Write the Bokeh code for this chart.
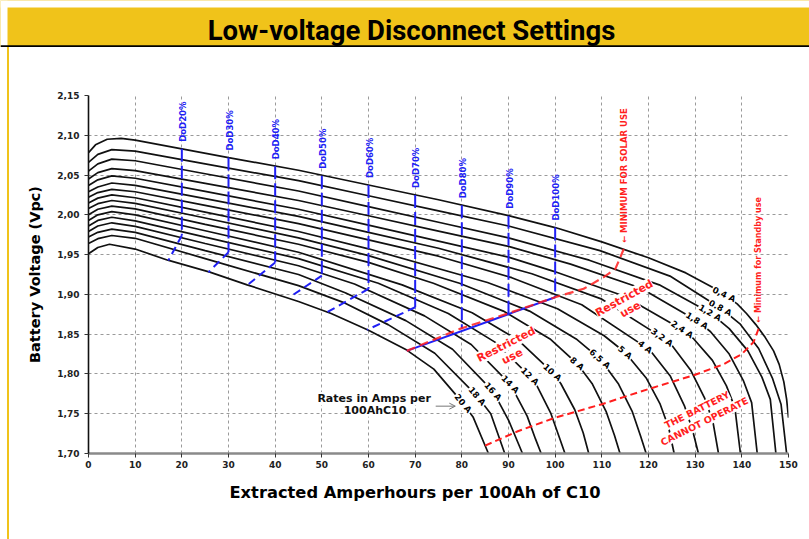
from bokeh.plotting import figure
from bokeh.models import Range1d, FixedTicker, Label, Arrow, OpenHead, Div, Span, BoxAnnotation
from bokeh.layouts import column, row
from bokeh.embed import file_html
from bokeh.resources import INLINE

TITLE = "Low-voltage Disconnect Settings"
X_LABEL = "Extracted Amperhours per 100Ah of C10"
Y_LABEL = "Battery Voltage (Vpc)"

x_ticks = [0, 10, 20, 30, 40, 50, 60, 70, 80, 90, 100, 110, 120, 130, 140, 150]
y_ticks = [1.70, 1.75, 1.80, 1.85, 1.90, 1.95, 2.00, 2.05, 2.10, 2.15]
y_tick_labels = ["1,70", "1,75", "1,80", "1,85", "1,90", "1,95", "2,00", "2,05", "2,10", "2,15"]

# discharge curves: (extracted Ah per 100Ah C10, volts per cell)
curve_0_4A = [(0, 2.078), (1.5, 2.088), (4, 2.095), (7, 2.096), (10, 2.094), (20, 2.083), (30, 2.072),
              (45, 2.056), (60, 2.0375), (75, 2.019), (90, 1.999), (100, 1.984), (110, 1.966), (120, 1.946),
              (128, 1.927), (134, 1.908), (136.2, 1.900), (139, 1.888), (141, 1.876), (143, 1.862),
              (145, 1.846), (146.8, 1.829), (148, 1.812), (149, 1.790), (149.6, 1.768), (150, 1.745)]
curve_0_8A = [(0, 2.066), (2, 2.076), (5, 2.082), (10, 2.080), (25, 2.064), (45, 2.043), (60, 2.024),
              (75, 2.005), (90, 1.986), (109.6, 1.955), (124.6, 1.923), (135.4, 1.883), (139.6, 1.863),
              (143.6, 1.832), (146.6, 1.794), (148.4, 1.762), (149.6, 1.70)]
curve_1_2A = [(0, 2.055), (2, 2.064), (5, 2.070), (10, 2.068), (25, 2.0516), (45, 2.030), (60, 2.0104),
              (75, 1.9907), (90, 1.971), (107.3, 1.943), (122.3, 1.912), (133.2, 1.877), (137.3, 1.857),
              (141.3, 1.829), (144.3, 1.796), (146.1, 1.768), (147.3, 1.70)]
curve_1_8A = [(0, 2.045), (2, 2.053), (5, 2.058), (10, 2.0555), (25, 2.0395), (45, 2.018), (60, 1.9988),
              (75, 1.9796), (90, 1.9604), (103.3, 1.938), (118.3, 1.908), (130.4, 1.867), (133.3, 1.853),
              (137.3, 1.825), (140.3, 1.792), (142.1, 1.764), (143.3, 1.70)]
curve_2_4A = [(0, 2.037), (2, 2.044), (5, 2.049), (10, 2.046), (25, 2.0294), (45, 2.007), (60, 1.987),
              (75, 1.967), (90, 1.9468), (99.7, 1.929), (114.7, 1.898), (127.2, 1.856), (129.7, 1.844),
              (133.7, 1.817), (136.7, 1.785), (138.5, 1.758), (139.7, 1.70)]
curve_3_2A = [(0, 2.029), (2, 2.035), (5, 2.040), (10, 2.037), (25, 2.0204), (45, 1.998), (60, 1.978),
              (75, 1.958), (95, 1.926), (110, 1.894), (122.9, 1.846), (125, 1.836), (129, 1.805),
              (132, 1.770), (133.8, 1.740), (135, 1.70)]
curve_4A = [(0, 2.022), (2, 2.028), (5, 2.032), (10, 2.029), (25, 2.0119), (45, 1.989), (60, 1.9685),
            (75, 1.948), (90.7, 1.921), (105.7, 1.887), (119.3, 1.834), (120.7, 1.827), (124.7, 1.797),
            (127.7, 1.760), (129.5, 1.728), (130.7, 1.70)]
curve_5A = [(0, 2.015), (2, 2.021), (5, 2.025), (10, 2.0215), (25, 2.0034), (45, 1.979), (60, 1.9573),
            (85.5, 1.915), (100.5, 1.882), (110.5, 1.848), (115, 1.827), (119.5, 1.795), (122.5, 1.762),
            (124.3, 1.733), (125.5, 1.70)]
curve_6_5A = [(0, 2.008), (2, 2.014), (5, 2.018), (10, 2.0145), (25, 1.996), (45, 1.971), (60, 1.9487),
              (79.5, 1.914), (94.5, 1.879), (104.5, 1.844), (109.6, 1.819), (113.5, 1.788), (116.5, 1.753),
              (118.3, 1.722), (119.5, 1.70)]
curve_8A = [(0, 2.000), (2, 2.007), (5, 2.011), (10, 2.0075), (25, 1.988), (45, 1.963), (60, 1.9402),
            (73.9, 1.914), (88.9, 1.879), (98.9, 1.844), (104.7, 1.813), (107.9, 1.788), (110.9, 1.753),
            (112.7, 1.723), (113.9, 1.70)]
curve_10A = [(0, 1.993), (2, 2.000), (5, 2.004), (10, 2.000), (25, 1.980), (45, 1.953), (67.2, 1.912),
             (82.2, 1.877), (92.2, 1.842), (99.4, 1.802), (101.2, 1.788), (104.2, 1.755), (106, 1.726),
             (107.2, 1.70)]
curve_12A = [(0, 1.986), (2, 1.993), (5, 1.997), (10, 1.9925), (25, 1.972), (45, 1.945), (62.1, 1.914),
             (77.1, 1.876), (87.1, 1.840), (94.6, 1.797), (96.1, 1.785), (99.1, 1.750), (100.9, 1.720),
             (102.1, 1.70)]
curve_14A = [(0, 1.979), (2, 1.986), (5, 1.990), (10, 1.9855), (25, 1.964), (45, 1.936), (57, 1.913),
             (72, 1.873), (82, 1.837), (90.4, 1.787), (94, 1.747), (95.8, 1.718), (97, 1.70)]
curve_16A = [(0, 1.972), (2, 1.978), (5, 1.982), (10, 1.978), (25, 1.955), (45, 1.925), (55, 1.902),
             (68, 1.867), (78, 1.831), (86.7, 1.778), (90, 1.742), (93, 1.70)]
curve_18A = [(0, 1.964), (2, 1.970), (5, 1.974), (10, 1.9705), (25, 1.945), (45, 1.911), (55, 1.889),
             (64.2, 1.862), (74.2, 1.826), (83.3, 1.772), (86.2, 1.750), (89.2, 1.70)]
curve_20A = [(0, 1.951), (2, 1.959), (4.5, 1.963), (10, 1.957), (17, 1.943), (26, 1.928), (34, 1.912),
             (45, 1.891), (52, 1.876), (60, 1.855), (68.2, 1.830), (74, 1.806), (80.3, 1.763),
             (82.4, 1.746), (85.7, 1.70)]

rate_names = ["0,4 A", "0,8 A", "1,2 A", "1,8 A", "2,4 A", "3,2 A", "4 A", "5 A",
              "6,5 A", "8 A", "10 A", "12 A", "14 A", "16 A", "18 A", "20 A"]
curves = [curve_0_4A, curve_0_8A, curve_1_2A, curve_1_8A, curve_2_4A, curve_3_2A, curve_4A, curve_5A,
          curve_6_5A, curve_8A, curve_10A, curve_12A, curve_14A, curve_16A, curve_18A, curve_20A]
# where each rate label sits on its curve
rate_label_x = [136.2, 135.4, 133.2, 130.4, 127.2, 122.9, 119.3, 115.0, 109.6, 104.7, 99.4, 94.6, 90.4, 86.7, 83.3, 80.3]
rate_label_v = [1.900, 1.883, 1.877, 1.867, 1.856, 1.846, 1.834, 1.827, 1.819, 1.813, 1.802, 1.797, 1.787, 1.778, 1.772, 1.763]

# depth-of-discharge markers
dod_names = ["DoD20%", "DoD30%", "DoD40%", "DoD50%", "DoD60%", "DoD70%", "DoD80%", "DoD90%", "DoD100%"]
dod_x = [20, 30, 40, 50, 60, 70, 80, 90, 100]
dod_top_v = [2.083, 2.072, 2.061, 2.049, 2.0375, 2.025, 2.012, 1.999, 1.984]
dod_knee_v = [1.974, 1.953, 1.940, 1.9236, 1.907, 1.8838, 1.8567, 1.8755, 1.8964]
dod_end_x = [17.1, 25.7, 33.9, 43.6, 51.1, 59.7, None, None, 68.2]
dod_end_v = [1.9425, 1.9278, 1.911, 1.8985, 1.8775, 1.8554, None, None, 1.829]

# red limit lines
solar_min_x = [68.2, 79.6, 89.6, 100, 106.1, 110.5, 112.9, 114.7]
solar_min_v = [1.829, 1.8567, 1.8755, 1.8964, 1.907, 1.922, 1.932, 1.957]
standby_min_x = [85.0, 92.0, 100.0, 110.0, 120.0, 130.0, 136.0, 140.0, 142.5, 143.6]
standby_min_v = [1.710, 1.728, 1.745, 1.762, 1.781, 1.799, 1.812, 1.825, 1.840, 1.857]

YELLOW = "#F0C31A"
BLUE = "#2020F5"
RED = "#FF1E1E"
FONT = "DejaVu Sans"

# ---------------- title band ----------------
t = figure(width=809, height=47, x_range=Range1d(0, 809), y_range=Range1d(0, 47),
           x_axis_type=None, y_axis_type=None, output_backend="svg", toolbar_location=None,
           min_border=0, background_fill_color=YELLOW, border_fill_color=YELLOW)
t.grid.visible = False
t.outline_line_color = None
t.add_layout(BoxAnnotation(bottom=40, fill_color="white", fill_alpha=1, line_color=None))
t.add_layout(BoxAnnotation(right=7, fill_color="white", fill_alpha=1, line_color=None))
t.add_layout(Span(location=1, dimension="width", line_color="black", line_width=2.5))
t.add_layout(Label(x=411, y=17, text=TITLE, text_align="center", text_baseline="middle",
                   text_font="Roboto", text_font_style="bold", text_font_size="27.5px", text_color="black"))

# ---------------- main chart ----------------
p = figure(width=800, height=492, x_range=Range1d(0, 150), y_range=Range1d(1.70, 2.15),
           output_backend="svg", toolbar_location=None, title_location="below",
           min_border_left=79, min_border_right=21, min_border_top=48, min_border_bottom=86,
           background_fill_color="white", border_fill_color="white")
p.outline_line_color = None
p.xaxis.ticker = FixedTicker(ticks=x_ticks)
p.yaxis.ticker = FixedTicker(ticks=y_ticks)
p.yaxis.major_label_overrides = {v: s for v, s in zip(y_ticks, y_tick_labels)}
p.grid.grid_line_color = "#9a9a9a"
p.grid.grid_line_dash = "3 3"
p.grid.grid_line_width = 1

p.xaxis.axis_line_color = "#8a8a8a"
p.xaxis.axis_line_width = 2.5
p.yaxis.axis_line_color = "#111111"
p.yaxis.axis_line_width = 1.6
p.axis.major_tick_in = 0
p.axis.major_tick_out = 4
p.axis.major_tick_line_color = "#333333"
p.axis.minor_tick_line_color = None
p.axis.major_label_text_font = FONT
p.axis.major_label_text_font_style = "bold"
p.axis.major_label_text_font_size = "9px"
p.axis.major_label_text_color = "#222222"
p.xaxis.major_label_standoff = 3
p.yaxis.major_label_standoff = 5
p.yaxis.axis_label = Y_LABEL
p.axis.axis_label_text_font = FONT
p.axis.axis_label_text_font_style = "bold"
p.axis.axis_label_text_color = "black"
p.yaxis.axis_label_text_font_size = "14.5px"
p.yaxis.axis_label_standoff = 11

# x-axis title: shown as the figure title below the axis, shifted left as in the original
p.title.text = X_LABEL
p.title.align = "left"
p.title.offset = 141
p.title.standoff = 20
p.title.text_font = FONT
p.title.text_font_style = "bold"
p.title.text_font_size = "16.3px"
p.title.text_color = "black"

for c in curves:
    p.line([pt[0] for pt in c], [pt[1] for pt in c], line_color="#111111", line_width=1.7)

# DoD lines
for name, x, vt, vk, xe, ve in zip(dod_names, dod_x, dod_top_v, dod_knee_v, dod_end_x, dod_end_v):
    p.line([x, x], [vt, vk], line_color=BLUE, line_width=2, line_dash="13 4")
    if xe is not None:
        dash = "solid" if x == 100 else "8 5"
        p.line([x, xe], [vk, ve], line_color=BLUE, line_width=2, line_dash=dash)
    p.add_layout(Label(x=x, y=vt, y_offset=7, x_offset=1, text=name, angle=90, angle_units="deg",
                       text_align="left", text_baseline="middle", text_font=FONT,
                       text_font_style="bold", text_font_size="8.5px", text_color=BLUE))

# red limit lines
p.line(solar_min_x, solar_min_v, line_color=RED, line_width=2.2, line_dash="9 5", line_alpha=0.85)
p.line(standby_min_x, standby_min_v, line_color=RED, line_width=2, line_dash="7 4")

p.add_layout(Label(x=solar_min_x[-1], y=solar_min_v[-1], y_offset=6, text="\u2190 MINIMUM FOR SOLAR USE",
                   angle=90, angle_units="deg", text_align="left", text_baseline="middle",
                   text_font=FONT, text_font_style="bold", text_font_size="8.5px", text_color=RED))
p.add_layout(Label(x=standby_min_x[-1], y=standby_min_v[-1], y_offset=6, text="\u2190 Minimum for Standby use",
                   angle=90, angle_units="deg", text_align="left", text_baseline="middle",
                   text_font=FONT, text_font_style="bold", text_font_size="8px", text_color=RED))

# rate labels on curves
rate_angles = [-26, -28, -30, -32, -34, -36, -38, -40, -42, -42, -42, -44, -46, -48, -50, -50]
for name, x, v, a in zip(rate_names, rate_label_x, rate_label_v, rate_angles):
    p.add_layout(Label(x=x, y=v, text=name, angle=a, angle_units="deg", text_align="center",
                       text_baseline="middle", text_font=FONT, text_font_style="bold",
                       text_font_size="8.5px", text_color="black", background_fill_color="white",
                       padding=1))

def red_text(x, y, txt, ang, size):
    p.add_layout(Label(x=x, y=y, text=txt, angle=ang, angle_units="deg", text_align="center",
                       text_baseline="middle", text_font=FONT, text_font_style="bold",
                       text_font_size=size, text_color=RED, background_fill_color="white"))

red_text(89.5, 1.837, "Restricted", 27, "11px")
red_text(90.8, 1.822, "use", 27, "11px")
red_text(114.8, 1.895, "Restricted", 29, "11px")
red_text(116.1, 1.881, "use", 29, "11px")
red_text(130.4, 1.755, "THE BATTERY", 26.5, "9.5px")
red_text(132.0, 1.7405, "CANNOT OPERATE", 26.5, "9.5px")

p.add_layout(Label(x=61.2, y=1.769, text="Rates in Amps per", text_align="center", text_baseline="middle",
                   text_font=FONT, text_font_style="bold", text_font_size="11px", text_color="#111111",
                   background_fill_color="white"))
p.add_layout(Label(x=61.4, y=1.7545, text="100AhC10", text_align="center", text_baseline="middle",
                   text_font=FONT, text_font_style="bold", text_font_size="11px", text_color="#111111",
                   background_fill_color="white"))
p.add_layout(Arrow(end=OpenHead(size=6, line_color="#777777", line_width=1),
                   x_start=74.4, y_start=1.7595, x_end=78.6, y_end=1.7595,
                   line_color="#777777", line_width=1))

gap = Div(width=7, height=492, margin=0)
strip = Div(width=2, height=492, styles={"background-color": YELLOW}, margin=0)
layout = column(t, row(gap, strip, p, spacing=0), spacing=0)

open("out.html", "w").write(file_html(layout, INLINE))
